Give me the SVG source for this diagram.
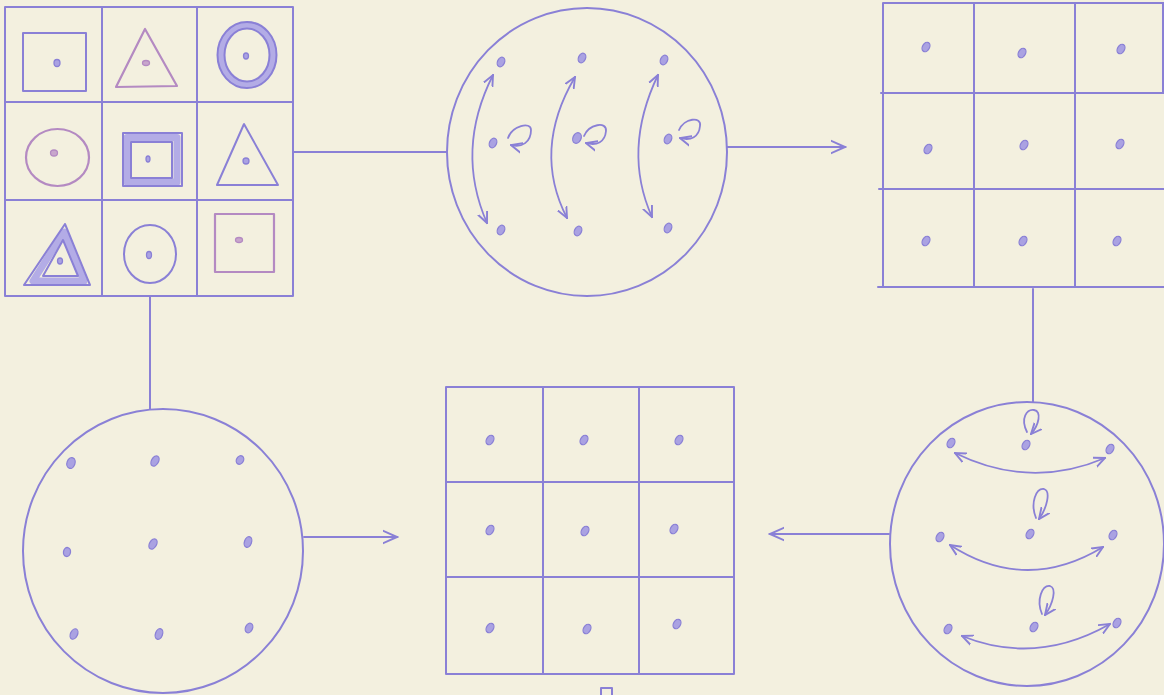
<svg xmlns="http://www.w3.org/2000/svg" width="1164" height="695" viewBox="0 0 1164 695">
<style>
.ln{fill:none;stroke:#8a80d6;stroke-width:2;stroke-linecap:round;stroke-linejoin:round}
.pk{fill:none;stroke:#b48ac2;stroke-width:2.2;stroke-linecap:round;stroke-linejoin:round}
.band{fill:none;stroke:#b3ace6;stroke-width:7;stroke-linejoin:round}
.dot{fill:#aaa2e2;stroke:#8a80d6;stroke-width:1.3}
.pdot{fill:#c8a6cc;stroke:#b48ac2;stroke-width:1.3}
.sm{fill:none;stroke:#8a80d6;stroke-width:1.8;stroke-linecap:round;stroke-linejoin:round}
</style>
<defs>
<marker id="big" viewBox="0 0 10 10" refX="9" refY="5" markerWidth="16" markerHeight="16" markerUnits="userSpaceOnUse" orient="auto-start-reverse">
<path d="M0,1 L9,5 L0,9" fill="none" stroke="#8a80d6" stroke-width="1.2" stroke-linecap="round"/>
</marker>
<marker id="small" viewBox="0 0 10 10" refX="9" refY="5" markerWidth="12" markerHeight="12" markerUnits="userSpaceOnUse" orient="auto-start-reverse">
<path d="M0,1 L9,5 L0,9" fill="none" stroke="#8a80d6" stroke-width="1.6" stroke-linecap="round"/>
</marker>
</defs>
<rect width="1164" height="695" fill="#f3f0df"/>

<g id="connectors">
<path class="ln" d="M293,152 L447,152"/>
<path class="ln" d="M727,147 L845,147" marker-end="url(#big)"/>
<path class="ln" d="M1033,289 L1033,402"/>
<path class="ln" d="M889,534 L770,534" marker-end="url(#big)"/>
<path class="ln" d="M150,297 L150,409"/>
<path class="ln" d="M304,537 L397,537" marker-end="url(#big)"/>
</g>

<g id="shapes-grid">
<rect class="ln" x="5" y="7" width="288" height="289"/>
<path class="ln" d="M102,7 V296 M197,7 V296 M5,102 H293 M5,200 H293"/>
<rect class="ln" x="23" y="33" width="63" height="58"/>
<ellipse class="dot" cx="57" cy="63" rx="3" ry="3.5"/>
<path class="pk" d="M145,29 L116,87 L177,86 Z"/>
<ellipse class="pdot" cx="146" cy="63" rx="3.5" ry="2.5"/>
<ellipse class="band" cx="247" cy="55" rx="26" ry="29.8"/>
<ellipse class="ln" cx="247" cy="55" rx="29.5" ry="33"/>
<ellipse class="ln" cx="247" cy="55" rx="22.5" ry="26.5"/>
<ellipse class="dot" cx="246" cy="56" rx="2.5" ry="3"/>
<ellipse class="pk" cx="57.5" cy="157.5" rx="31.5" ry="28.5"/>
<ellipse class="pdot" cx="54" cy="153" rx="3.5" ry="3"/>
<rect class="band" x="127" y="137.5" width="50" height="44.5" stroke-width="8"/>
<rect class="ln" x="123" y="133" width="59" height="53"/>
<rect class="ln" x="131" y="142" width="41" height="36"/>
<ellipse class="dot" cx="148" cy="159" rx="2" ry="3"/>
<path class="ln" d="M244,124 L217,185 L278,185 Z"/>
<ellipse class="dot" cx="246" cy="161" rx="3" ry="3"/>
<path class="band" d="M64,232 L33,281 L84,281 Z"/>
<path class="ln" d="M65,224 L24,285 L90,285 Z"/>
<path class="ln" d="M63,240 L43,276 L78,276 Z"/>
<ellipse class="dot" cx="60" cy="261" rx="2.5" ry="3"/>
<ellipse class="ln" cx="150" cy="254" rx="26" ry="29"/>
<ellipse class="dot" cx="149" cy="255" rx="2.5" ry="3.5"/>
<rect class="pk" x="215" y="214" width="59" height="58" stroke="#c49cb6"/>
<ellipse class="pdot" cx="239" cy="240" rx="3.5" ry="2.5"/>
</g>

<g id="circle-vertical">
<ellipse class="ln" cx="587" cy="152" rx="140" ry="144"/>
<ellipse class="dot" cx="501" cy="62" rx="3.5" ry="5" transform="rotate(25 501 62)"/>
<ellipse class="dot" cx="493" cy="143" rx="3.5" ry="5" transform="rotate(25 493 143)"/>
<ellipse class="dot" cx="501" cy="230" rx="3.5" ry="5" transform="rotate(25 501 230)"/>
<ellipse class="dot" cx="582" cy="58" rx="3.5" ry="5" transform="rotate(25 582 58)"/>
<ellipse class="dot" cx="577" cy="138" rx="4" ry="5.5" transform="rotate(25 577 138)"/>
<ellipse class="dot" cx="578" cy="231" rx="3.5" ry="5" transform="rotate(25 578 231)"/>
<ellipse class="dot" cx="664" cy="60" rx="3.5" ry="5" transform="rotate(25 664 60)"/>
<ellipse class="dot" cx="668" cy="139" rx="3.5" ry="5" transform="rotate(25 668 139)"/>
<ellipse class="dot" cx="668" cy="228" rx="3.5" ry="5" transform="rotate(25 668 228)"/>
<path class="sm" d="M493,75 Q455,150 487,223" marker-start="url(#small)" marker-end="url(#small)"/>
<path class="sm" d="M575,77 Q532,150 567,218" marker-start="url(#small)" marker-end="url(#small)"/>
<path class="sm" d="M658,75 Q622,150 652,217" marker-start="url(#small)" marker-end="url(#small)"/>
<path class="sm" d="M508,138 C512,126 531,121 531,130 C531,142 522,148 511,145" marker-end="url(#small)"/>
<path class="sm" d="M584,136 C589,124 607,121 606,131 C605,142 597,146 586,143" marker-end="url(#small)"/>
<path class="sm" d="M679,130 C684,118 702,116 700,126 C699,137 691,141 680,138" marker-end="url(#small)"/>
</g>

<g id="grid-top-right">
<path class="ln" d="M883,3 H1164 M881,93 H1164 M879,189 H1164 M878,287 H1164 M883,3 V287 M974,3 V287 M1075,3 V287 M1163,3 V93"/>
<ellipse class="dot" cx="926" cy="47" rx="3.5" ry="5" transform="rotate(30 926 47)"/>
<ellipse class="dot" cx="1022" cy="53" rx="3.5" ry="5" transform="rotate(30 1022 53)"/>
<ellipse class="dot" cx="1121" cy="49" rx="3.5" ry="5" transform="rotate(30 1121 49)"/>
<ellipse class="dot" cx="928" cy="149" rx="3.5" ry="5" transform="rotate(30 928 149)"/>
<ellipse class="dot" cx="1024" cy="145" rx="3.5" ry="5" transform="rotate(30 1024 145)"/>
<ellipse class="dot" cx="1120" cy="144" rx="3.5" ry="5" transform="rotate(30 1120 144)"/>
<ellipse class="dot" cx="926" cy="241" rx="3.5" ry="5" transform="rotate(30 926 241)"/>
<ellipse class="dot" cx="1023" cy="241" rx="3.5" ry="5" transform="rotate(30 1023 241)"/>
<ellipse class="dot" cx="1117" cy="241" rx="3.5" ry="5" transform="rotate(30 1117 241)"/>
</g>

<g id="circle-horizontal">
<ellipse class="ln" cx="1027" cy="544" rx="137" ry="142"/>
<ellipse class="dot" cx="951" cy="443" rx="3.5" ry="5" transform="rotate(30 951 443)"/>
<ellipse class="dot" cx="1026" cy="445" rx="3.5" ry="5" transform="rotate(30 1026 445)"/>
<ellipse class="dot" cx="1110" cy="449" rx="3.5" ry="5" transform="rotate(30 1110 449)"/>
<ellipse class="dot" cx="940" cy="537" rx="3.5" ry="5" transform="rotate(30 940 537)"/>
<ellipse class="dot" cx="1030" cy="534" rx="3.5" ry="5" transform="rotate(30 1030 534)"/>
<ellipse class="dot" cx="1113" cy="535" rx="3.5" ry="5" transform="rotate(30 1113 535)"/>
<ellipse class="dot" cx="948" cy="629" rx="3.5" ry="5" transform="rotate(30 948 629)"/>
<ellipse class="dot" cx="1034" cy="627" rx="3.5" ry="5" transform="rotate(30 1034 627)"/>
<ellipse class="dot" cx="1117" cy="623" rx="3.5" ry="5" transform="rotate(30 1117 623)"/>
<path class="sm" d="M955,453 Q1030,490 1105,458" marker-start="url(#small)" marker-end="url(#small)"/>
<path class="sm" d="M950,545 Q1026,594 1103,547" marker-start="url(#small)" marker-end="url(#small)"/>
<path class="sm" d="M962,636 Q1036,666 1110,624" marker-start="url(#small)" marker-end="url(#small)"/>
<path class="sm" d="M1027,432 C1020,418 1027,409 1034,410 C1042,411 1039,425 1031,434" marker-end="url(#small)"/>
<path class="sm" d="M1036,518 C1030,503 1036,488 1044,489 C1051,491 1047,508 1039,519" marker-end="url(#small)"/>
<path class="sm" d="M1042,614 C1036,600 1042,585 1050,586 C1057,588 1053,604 1045,615" marker-end="url(#small)"/>
</g>

<g id="circle-lattice">
<ellipse class="ln" cx="163" cy="551" rx="140" ry="142"/>
<ellipse class="dot" cx="71" cy="463" rx="4" ry="5.5" transform="rotate(20 71 463)"/>
<ellipse class="dot" cx="155" cy="461" rx="3.5" ry="5.5" transform="rotate(30 155 461)"/>
<ellipse class="dot" cx="240" cy="460" rx="3.5" ry="4.5" transform="rotate(30 240 460)"/>
<ellipse class="dot" cx="67" cy="552" rx="3.5" ry="4.5" transform="rotate(10 67 552)"/>
<ellipse class="dot" cx="153" cy="544" rx="3.5" ry="5.5" transform="rotate(30 153 544)"/>
<ellipse class="dot" cx="248" cy="542" rx="3.5" ry="5.5" transform="rotate(20 248 542)"/>
<ellipse class="dot" cx="74" cy="634" rx="3.5" ry="5.5" transform="rotate(25 74 634)"/>
<ellipse class="dot" cx="159" cy="634" rx="3.5" ry="5.5" transform="rotate(20 159 634)"/>
<ellipse class="dot" cx="249" cy="628" rx="3.5" ry="5" transform="rotate(25 249 628)"/>
</g>

<g id="grid-bottom">
<rect class="ln" x="446" y="387" width="288" height="287"/>
<path class="ln" d="M543,387 V674 M639,387 V674 M446,482 H734 M446,577 H734"/>
<ellipse class="dot" cx="490" cy="440" rx="3.5" ry="5" transform="rotate(30 490 440)"/>
<ellipse class="dot" cx="584" cy="440" rx="3.5" ry="5" transform="rotate(30 584 440)"/>
<ellipse class="dot" cx="679" cy="440" rx="3.5" ry="5" transform="rotate(30 679 440)"/>
<ellipse class="dot" cx="490" cy="530" rx="3.5" ry="5" transform="rotate(30 490 530)"/>
<ellipse class="dot" cx="585" cy="531" rx="3.5" ry="5" transform="rotate(30 585 531)"/>
<ellipse class="dot" cx="674" cy="529" rx="3.5" ry="5" transform="rotate(30 674 529)"/>
<ellipse class="dot" cx="490" cy="628" rx="3.5" ry="5" transform="rotate(30 490 628)"/>
<ellipse class="dot" cx="587" cy="629" rx="3.5" ry="5" transform="rotate(30 587 629)"/>
<ellipse class="dot" cx="677" cy="624" rx="3.5" ry="5" transform="rotate(30 677 624)"/>
<path class="ln" d="M601,695 V688 H612 V695"/>
</g>
</svg>
